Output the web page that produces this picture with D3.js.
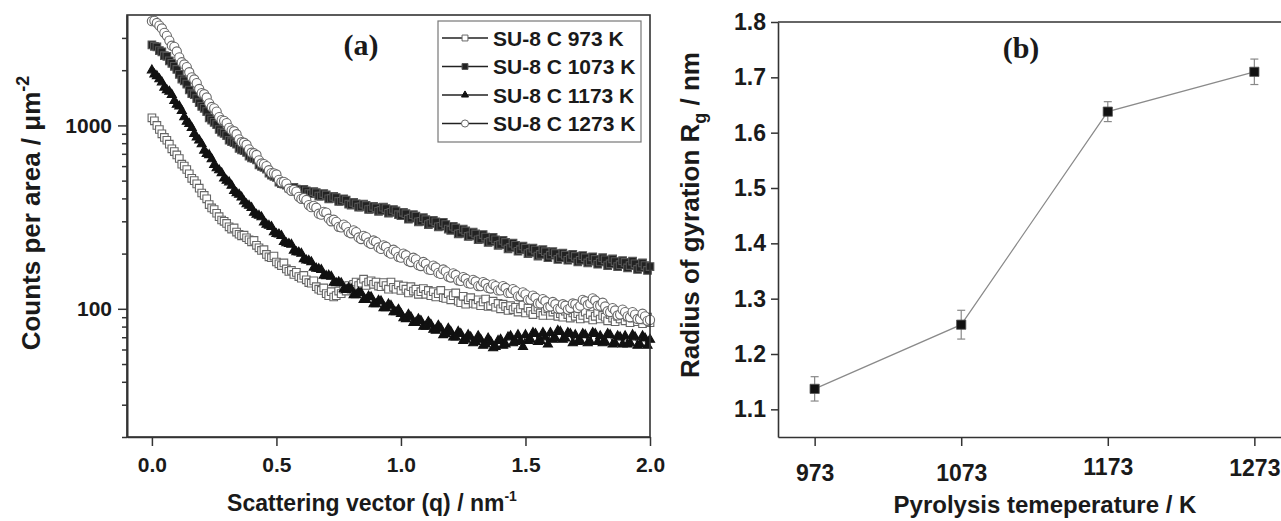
<!DOCTYPE html>
<html><head><meta charset="utf-8">
<script src="https://cdn.jsdelivr.net/npm/d3@7"></script>
<style>
body{margin:0;background:#fff;}
svg{display:block;font-family:"Liberation Sans",Arial,sans-serif;font-weight:bold;}
</style></head><body>
<svg id="chart" width="1281" height="521"></svg>
<script>
// ---------- DATA ----------
const qValues = [
0.00,0.01,0.02,0.03,0.04,0.05,0.06,0.07,0.08,0.09,0.10,0.11,0.12,0.13,0.14,0.15,0.16,0.17,0.18,0.19,
0.20,0.21,0.22,0.23,0.24,0.25,0.26,0.27,0.28,0.29,0.30,0.31,0.32,0.33,0.34,0.35,0.36,0.37,0.38,0.39,
0.40,0.41,0.42,0.43,0.44,0.45,0.46,0.47,0.48,0.49,0.50,0.51,0.52,0.53,0.54,0.55,0.56,0.57,0.58,0.59,
0.60,0.61,0.62,0.63,0.64,0.65,0.66,0.67,0.68,0.69,0.70,0.71,0.72,0.73,0.74,0.75,0.76,0.77,0.78,0.79,
0.80,0.81,0.82,0.83,0.84,0.85,0.86,0.87,0.88,0.89,0.90,0.91,0.92,0.93,0.94,0.95,0.96,0.97,0.98,0.99,
1.00,1.01,1.02,1.03,1.04,1.05,1.06,1.07,1.08,1.09,1.10,1.11,1.12,1.13,1.14,1.15,1.16,1.17,1.18,1.19,
1.20,1.21,1.22,1.23,1.24,1.25,1.26,1.27,1.28,1.29,1.30,1.31,1.32,1.33,1.34,1.35,1.36,1.37,1.38,1.39,
1.40,1.41,1.42,1.43,1.44,1.45,1.46,1.47,1.48,1.49,1.50,1.51,1.52,1.53,1.54,1.55,1.56,1.57,1.58,1.59,
1.60,1.61,1.62,1.63,1.64,1.65,1.66,1.67,1.68,1.69,1.70,1.71,1.72,1.73,1.74,1.75,1.76,1.77,1.78,1.79,
1.80,1.81,1.82,1.83,1.84,1.85,1.86,1.87,1.88,1.89,1.90,1.91,1.92,1.93,1.94,1.95,1.96,1.97,1.98,1.99,
2.00];

const seriesNames = ["SU-8 C 973 K","SU-8 C 1073 K","SU-8 C 1173 K","SU-8 C 1273 K"];

const counts973 = [
1100,1060,1000,950,900,860,830,790,745,720,
690,660,615,600,575,545,515,500,480,455,
428,415,398,370,355,348,332,318,305,300,
292,280,272,276,262,255,250,252,244,238,
232,236,222,215,208,210,198,192,190,194,
180,176,172,178,165,160,162,154,158,150,
147,152,144,139,138,142,132,128,126,130,
121,118,124,116,118,125,121,128,125,134,
128,136,140,134,138,145,134,140,142,136,
140,133,132,139,134,128,140,131,128,135,
126,133,128,122,132,125,128,120,124,129,
120,126,118,124,116,121,126,115,114,121,
112,118,122,110,108,117,106,112,115,107,
106,112,104,109,113,103,104,110,102,107,
100,106,103,98,104,99,102,96,100,105,
95,101,97,93,99,102,95,92,97,100,
92,96,99,91,94,90,97,93,89,95,
91,94,88,92,96,89,93,87,91,95,
88,92,90,86,93,89,85,91,88,92,
86,90,84,89,92,85,88,83,87,90,
84];

const counts1073 = [
2750,2700,2680,2560,2520,2400,2380,2250,2180,2100,
2020,1900,1790,1750,1680,1560,1490,1470,1400,1330,
1270,1240,1190,1100,1070,1040,1010,950,920,905,
880,830,815,805,790,750,735,728,712,680,
665,660,648,610,598,590,578,550,535,528,
520,490,482,478,472,455,452,460,450,438,
436,448,440,425,424,436,430,412,412,425,
418,398,400,410,404,385,386,398,392,372,
368,380,374,358,360,372,366,348,350,362,
356,340,344,358,352,332,336,348,342,326,
322,336,330,308,312,326,320,298,300,314,
306,288,292,304,298,280,282,296,288,272,
268,282,276,256,258,272,266,248,250,262,
256,238,240,254,246,230,233,245,238,222,
224,236,230,212,216,228,222,206,210,220,
214,200,203,214,209,194,198,210,205,190,
196,205,200,186,190,201,196,184,188,198,
193,180,184,195,190,178,182,192,186,175,
180,190,185,172,176,187,181,170,174,183,
179,167,172,182,176,164,168,178,172,162,
170];

const counts1173 = [
2000,1900,1860,1790,1720,1610,1560,1530,1470,1360,
1300,1270,1200,1110,1050,1020,970,900,860,830,
790,730,700,690,655,610,585,570,550,515,
500,490,470,440,428,420,405,385,372,365,
355,335,326,322,316,296,288,284,280,262,
256,255,250,232,228,226,224,208,204,203,
200,187,184,183,180,168,166,165,163,152,
151,152,150,139,138,140,138,128,127,130,
128,119,119,123,122,112,112,117,116,106,
106,111,110,101,101,106,104,96,96,99,
94,89,88,93,90,84,84,88,86,80,
80,85,82,77,76,81,78,72,73,78,
75,70,70,75,73,67,68,72,70,65,
66,71,68,63,64,69,66,61,62,67,
68,63,64,70,71,65,66,72,67,62,
72,67,68,74,73,66,67,74,70,64,
74,68,69,76,75,68,69,74,73,65,
72,66,67,73,72,65,66,74,73,66,
71,65,66,73,72,64,65,71,70,64,
71,64,65,72,70,63,64,71,69,63,
68];

const counts1273 = [
3700,3720,3620,3500,3380,3200,3080,2900,2720,2680,
2530,2350,2210,2150,2080,1950,1830,1780,1700,1580,
1500,1480,1420,1320,1260,1240,1190,1110,1070,1060,
1030,970,940,930,895,840,810,805,785,740,
710,705,690,645,620,615,600,570,550,548,
540,505,490,492,482,452,440,445,436,408,
398,402,392,368,358,364,356,330,326,338,
335,310,300,306,298,280,278,288,281,262,
258,268,262,245,240,250,246,230,226,236,
232,216,212,222,218,204,200,210,205,192,
190,200,196,182,180,190,186,173,171,180,
176,164,163,172,168,157,155,164,160,150,
148,156,153,143,142,149,146,138,137,144,
141,133,133,140,137,130,129,136,133,126,
126,133,130,122,122,128,125,117,117,123,
120,112,112,118,115,107,107,113,110,102,
103,109,106,100,100,106,104,99,101,107,
106,101,104,112,110,105,107,114,111,104,
104,108,103,97,96,101,98,92,93,99,
96,91,90,96,93,88,88,94,91,86,
87];

const aXTicks = [0.0,0.5,1.0,1.5,2.0];
const aYTicks = [100,1000];
const aYMinorTicks = [20,30,40,50,60,70,80,90,200,300,400,500,600,700,800,900,2000,3000];

const temps = [973,1073,1173,1273];
const rg = [1.137,1.253,1.638,1.710];
const rgErr = [0.022,0.026,0.018,0.023];
const bYTicks = [1.1,1.2,1.3,1.4,1.5,1.6,1.7,1.8];

// ---------- RENDER ----------
const svg = d3.select("#chart");
const ink = "#1a1a1a";

// Panel (a)
const ax = d3.scaleLinear().domain([-0.1, 2.0]).range([127, 650]);
const ay = d3.scaleLog().domain([20, 4000]).range([437, 15]);

const gA = svg.append("g");

const series = [
  {vals: counts973, type: "square", fill: "#fff", stroke: "#666", line: "#555", size: 58},
  {vals: counts1073, type: "square", fill: "#222", stroke: "#555", line: "#222", size: 58},
  {vals: counts1173, type: "triangle", fill: "#111", stroke: "#111", line: "#111", size: 36},
  {vals: counts1273, type: "circle", fill: "#fff", stroke: "#666", line: "#444", size: 66}
];
const symType = {square: d3.symbolSquare, triangle: d3.symbolTriangle, circle: d3.symbolCircle};

const lineA = d3.line().x((d,i)=>ax(qValues[i])).y(d=>ay(d));
series.forEach(s => {
  const g = gA.append("g");
  g.append("path").attr("d", lineA(s.vals)).attr("fill","none")
    .attr("stroke", s.line).attr("stroke-width", 1);
  g.selectAll("path.m").data(s.vals).join("path").attr("class","m")
    .attr("d", d3.symbol().type(symType[s.type]).size(s.size))
    .attr("transform", (d,i)=>`translate(${ax(qValues[i])},${ay(d)})`)
    .attr("fill", s.fill).attr("stroke", s.stroke).attr("stroke-width", 1.1);
});

// frame (a)
gA.append("rect").attr("x",127).attr("y",15).attr("width",523).attr("height",422)
  .attr("fill","none").attr("stroke","#333").attr("stroke-width",1.6);

// axes (a)
const axA = gA.append("g").attr("transform","translate(0,437)")
  .call(d3.axisBottom(ax).tickValues(aXTicks).tickFormat(d3.format(".1f")).tickSize(9).tickPadding(11).tickSizeOuter(0));
const ayA = gA.append("g").attr("transform","translate(127,0)")
  .call(d3.axisLeft(ay).tickValues(aYTicks).tickFormat(d3.format("d")).tickSize(9).tickPadding(6).tickSizeOuter(0));
const ayMinor = gA.append("g").attr("transform","translate(127,0)")
  .call(d3.axisLeft(ay).tickValues(aYMinorTicks).tickFormat("").tickSize(5).tickSizeOuter(0));
[axA, ayA, ayMinor].forEach(g => {
  g.select(".domain").attr("stroke","#333").attr("stroke-width",1.6);
  g.selectAll(".tick line").attr("stroke","#333").attr("stroke-width",1.5);
  g.selectAll(".tick text").attr("fill",ink).style("font-size","21px").style("font-weight","bold")
    .style("font-family",'"Liberation Sans",Arial,sans-serif');
});

// title (a)
gA.append("text").attr("x",361).attr("y",55).attr("text-anchor","middle")
  .style("font-family",'"Liberation Serif","Times New Roman",serif').style("font-size","30px")
  .attr("fill",ink).text("(a)");

// axis titles (a)
const xtA = gA.append("text").attr("x",372).attr("y",511).attr("text-anchor","middle")
  .attr("fill",ink).style("font-size","23px");
xtA.append("tspan").text("Scattering vector (q) / nm");
xtA.append("tspan").attr("dy",-10).style("font-size","14px").text("-1");

const ytA = gA.append("text").attr("transform","translate(31,213) rotate(-90)").attr("text-anchor","middle")
  .attr("dy","0.35em").attr("fill",ink).style("font-size","26px");
ytA.append("tspan").text("Counts per area / μm");
ytA.append("tspan").attr("dy",-11).style("font-size","18px").text("-2");

// legend
const lg = gA.append("g");
lg.append("rect").attr("x",438).attr("y",21).attr("width",203).attr("height",121)
  .attr("fill","#fff").attr("stroke","#777").attr("stroke-width",1.2);
series.forEach((s,i) => {
  const yy = 38 + i*28.5;
  lg.append("line").attr("x1",442).attr("x2",488).attr("y1",yy).attr("y2",yy)
    .attr("stroke","#222").attr("stroke-width",1.5);
  lg.append("path").attr("d", d3.symbol().type(symType[s.type]).size(s.size*0.6)())
    .attr("transform",`translate(465,${yy})`).attr("fill", s.fill).attr("stroke", s.stroke);
  lg.append("text").attr("x",493).attr("y",yy).attr("dy","0.36em").attr("fill",ink)
    .style("font-size","21px").text(seriesNames[i]);
});

// Panel (b)
const bx = d3.scaleLinear().domain([948, 1298]).range([778, 1291]);
const by = d3.scaleLinear().domain([1.05, 1.8]).range([437, 22]);
const gB = svg.append("g");

gB.append("line").attr("x1",778).attr("x2",1291).attr("y1",22).attr("y2",22)
  .attr("stroke","#333").attr("stroke-width",1.6);

const bxA = gB.append("g").attr("transform","translate(0,437)")
  .call(d3.axisBottom(bx).tickValues(temps).tickFormat(d3.format("d")).tickSize(9).tickPadding(19).tickSizeOuter(0));
const byA = gB.append("g").attr("transform","translate(778,0)")
  .call(d3.axisLeft(by).tickValues(bYTicks).tickFormat(d3.format(".1f")).tickSize(7).tickPadding(5).tickSizeOuter(0));
[bxA, byA].forEach(g => {
  g.select(".domain").attr("stroke","#333").attr("stroke-width",1.6);
  g.selectAll(".tick line").attr("stroke","#333").attr("stroke-width",1.5);
  g.selectAll(".tick text").attr("fill",ink).style("font-size","23px").style("font-weight","bold")
    .style("font-family",'"Liberation Sans",Arial,sans-serif');
});
const labelShift = [0, 0, -6, -5];
bxA.selectAll(".tick text").attr("transform",(d,i)=>`translate(0,${labelShift[i]})`);

const lineB = d3.line().x((d,i)=>bx(temps[i])).y(d=>by(d));
gB.append("path").attr("d", lineB(rg)).attr("fill","none").attr("stroke","#8a8a8a").attr("stroke-width",1.2);
rg.forEach((v,i) => {
  const cx = bx(temps[i]);
  const y1 = by(v + rgErr[i]), y2 = by(v - rgErr[i]);
  gB.append("line").attr("x1",cx).attr("x2",cx).attr("y1",y1).attr("y2",y2).attr("stroke","#888").attr("stroke-width",1.2);
  gB.append("line").attr("x1",cx-4).attr("x2",cx+4).attr("y1",y1).attr("y2",y1).attr("stroke","#888").attr("stroke-width",1.2);
  gB.append("line").attr("x1",cx-4).attr("x2",cx+4).attr("y1",y2).attr("y2",y2).attr("stroke","#888").attr("stroke-width",1.2);
});
gB.selectAll("path.pt").data(rg).join("path").attr("class","pt")
  .attr("d", d3.symbol().type(d3.symbolSquare).size(85))
  .attr("transform",(d,i)=>`translate(${bx(temps[i])},${by(d)})`)
  .attr("fill","#111").attr("stroke","#555").attr("stroke-width",0.8);

gB.append("text").attr("x",1021).attr("y",58).attr("text-anchor","middle")
  .style("font-family",'"Liberation Serif","Times New Roman",serif').style("font-size","30px")
  .attr("fill",ink).text("(b)");

gB.append("text").attr("x",1045).attr("y",513).attr("text-anchor","middle")
  .attr("fill",ink).style("font-size","24px").text("Pyrolysis temeperature / K");

const ytB = gB.append("text").attr("transform","translate(690,215) rotate(-90)").attr("text-anchor","middle")
  .attr("dy","0.35em").attr("fill",ink).style("font-size","26px");
ytB.append("tspan").text("Radius of gyration R");
ytB.append("tspan").attr("dy",7).style("font-size","18px").text("g");
ytB.append("tspan").attr("dy",-7).text(" / nm");
</script>
</body></html>
